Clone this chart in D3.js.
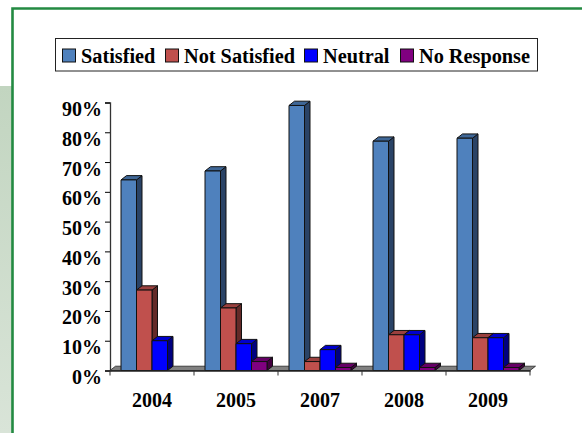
<!DOCTYPE html>
<html><head><meta charset="utf-8">
<script src="https://cdn.jsdelivr.net/npm/d3@7"></script>
<style>html,body{margin:0;padding:0;background:#fff}svg{display:block}
text{font-family:"Liberation Serif",serif;font-weight:bold;fill:#000}</style>
</head><body><div id="c"></div>
<script>
const years = ["2004","2005","2007","2008","2009"];
const seriesNames = ["Satisfied","Not Satisfied","Neutral","No Response"];
const satisfied = [64,67,89,77,78];
const notSatisfied = [27,21,3,12,11];
const neutral = [10,9,7,12,11];
const noResponse = [0,3,1,1,1];
const yTicks = [0,10,20,30,40,50,60,70,80,90];
const seriesValues = [satisfied,notSatisfied,neutral,noResponse];
const colors = ["#4f81bd","#c0504d","#0000ff","#800080"];
const sideColors = ["#2a4366","#632a28","#000080","#42003f"];
const topColors = ["#3f6797","#9a403e","#0000cc","#660066"];
const legendX = [62,165,304,400];

const W=582,H=433;
const svg=d3.select("#c").append("svg").attr("width",W).attr("height",H);
const defs=svg.append("defs");
const g=defs.append("linearGradient").attr("id","side").attr("x1",0).attr("x2",0).attr("y1",0).attr("y2",1);
g.append("stop").attr("offset",0).attr("stop-color","#c2d5c0");
g.append("stop").attr("offset",1).attr("stop-color","#d9e4d8");
svg.append("rect").attr("x",0).attr("y",86).attr("width",12).attr("height",H-86).attr("fill","url(#side)");
svg.append("path").attr("d",`M12.5,${H} V8.5 H${W}`).attr("fill","none").attr("stroke","#238a42").attr("stroke-width",2.6);

// legend
const lg=svg.append("g");
lg.append("rect").attr("x",55.5).attr("y",38.5).attr("width",482).attr("height",32.5).attr("fill","#fff").attr("stroke","#222").attr("stroke-width",1);
seriesNames.forEach((n,i)=>{
  lg.append("rect").attr("x",legendX[i]+.5).attr("y",49).attr("width",13).attr("height",13).attr("fill",colors[i]).attr("stroke","#111");
  lg.append("text").attr("x",legendX[i]+19).attr("y",63).attr("font-size",20.3).text(n);
});

const x0=110,x1=530,y0=370.5,y90=102.5,dx=5.5,dy=4.3;
const x=d3.scaleBand().domain(years).range([x0,x1]);
const inner=d3.scaleBand().domain(d3.range(4)).range([11,73]);
const y=d3.scaleLinear().domain([0,90]).range([y0,y90]);

// floor
svg.append("path").attr("d",`M${x0},${y0} L${x0+dx*1.0},${y0-dy} H${x1+dx} L${x1},${y0} Z`)
  .attr("fill","#808080").attr("stroke","#222").attr("stroke-width",.8);

// bars
const bars=svg.append("g");
years.forEach((yr,c)=>{
  seriesValues.forEach((vals,s)=>{
    const v=vals[c]; if(!v) return;
    const l=x(yr)+inner(s), w=inner.bandwidth(), r=l+w, t=y(v), b=y(0);
    const st={stroke:"#111","stroke-width":1,"stroke-linejoin":"round"};
    const add=(d,f)=>{const p=bars.append("path").attr("d",d).attr("fill",f);Object.entries(st).forEach(([k,a])=>p.attr(k,a));};
    add(`M${r},${t} L${r+dx},${t-dy} V${b-dy} L${r},${b} Z`,sideColors[s]);
    add(`M${l},${t} L${l+dx},${t-dy} H${r+dx} L${r},${t} Z`,topColors[s]);
    add(`M${l},${t} H${r} V${b} H${l} Z`,colors[s]);
  });
});

// axes
const ay=svg.append("g").attr("transform",`translate(${x0},0)`)
  .call(d3.axisLeft(y).tickValues(yTicks).tickFormat(d=>d+"%").tickSize(5).tickPadding(3));
ay.select(".domain").attr("stroke","#333").attr("stroke-width",1.3);
ay.selectAll("text").attr("font-size",20).attr("dy","0.65em");
const ax=svg.append("g").attr("transform",`translate(0,${y0})`)
  .call(d3.axisBottom(x).tickSizeOuter(0).tickSize(0).tickPadding(22));
ax.select(".domain").attr("stroke","#222").attr("stroke-width",1.3);
ax.selectAll("text").attr("font-size",20);
ax.selectAll(".sep").data(d3.range(6)).enter().append("line").attr("class","sep")
  .attr("x1",d=>x0+d*x.bandwidth()).attr("x2",d=>x0+d*x.bandwidth()).attr("y1",0).attr("y2",5).attr("stroke","#333");
</script></body></html>
